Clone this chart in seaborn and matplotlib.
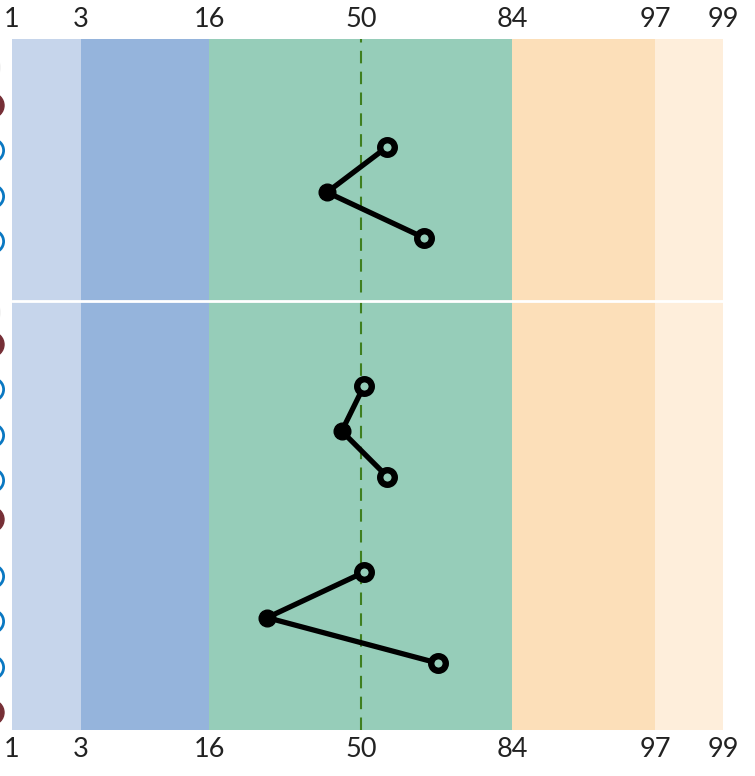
import numpy as np
import seaborn as sns
import matplotlib.pyplot as plt

sns.set_style("white")
plt.rcParams['font.family'] = ['Lato', 'DejaVu Sans']

# percentile ticks and bands
percentis = [1, 3, 16, 50, 84, 97, 99]
cores_faixas = ['#c6d5eb', '#95b4dc', '#96cdb9', '#96cdb9', '#fcdfb9', '#feeedb']

# row kinds, top to bottom: 'h' = section header (maroon), 'i' = item (blue)
linhas = ['h', 'i', 'i', 'i', 'h', 'i', 'i', 'i', 'h', 'i', 'i', 'i', 'h']
passos = [0, 1, 1, 1, 2.25, 1, 1, 1, 0.85, 1.25, 1, 1, 1]

# score percentiles of each group (item rows 1-3, 5-7, 9-11)
grupo1 = [55.9, 42.4, 64.2]
grupo2 = [50.7, 45.7, 55.9]
grupo3 = [50.7, 29.0, 67.3]

# scale anchors (layout only)
anc_pos = [0, 69, 197, 349, 500, 643, 711]
fwd = lambda p: np.interp(p, percentis, anc_pos)
inv = lambda v: np.interp(v, anc_pos, percentis)

y_linhas = np.cumsum(passos)

fig = plt.figure(figsize=(7.55, 7.76), dpi=100)
ax = fig.add_axes([12 / 755, 46 / 776, 711 / 755, 691 / 776])
ax.set_xscale('function', functions=(fwd, inv))
ax.set_xlim(1, 99)
ax.set_ylim(13.74, -1.45)

for i in range(len(percentis) - 1):
    ax.axvspan(percentis[i], percentis[i + 1], color=cores_faixas[i], lw=0, zorder=0)

ax.axvline(50, color='#3f7f1f', lw=1.5, ls=(0, (6, 4)), zorder=1)
ax.axhline(4.31, color='white', lw=2, zorder=1)

grupos = [grupo1, grupo2, grupo3]
itens = [i for i, k in enumerate(linhas) if k == 'i']
for g, valores in enumerate(grupos):
    ys = y_linhas[itens[g * 3:g * 3 + 3]] - 0.08
    sns.lineplot(x=valores, y=ys, sort=False, estimator=None, color='black', lw=3.8, ax=ax, zorder=3)
    ax.plot(valores[1], ys[1], 'o', color='black', ms=12, zorder=4)
    ax.plot([valores[0], valores[2]], [ys[0], ys[2]], 'o', mfc='#96cdb9', mec='black', mew=4.6, ms=10.5,
            ls='none', zorder=4)

# row markers left of the axes
trans = ax.get_yaxis_transform()
for k, y in zip(linhas, y_linhas):
    if k == 'h':
        ax.plot(-0.029, y, 'o', color='#762f36', ms=18, transform=trans, clip_on=False)
    else:
        ax.plot(-0.028, y, 'o', mfc='white', mec='#0a78c2', mew=2, ms=16, transform=trans, clip_on=False)
for y in [-0.84, 4.55]:
    ax.plot(-0.034, y, 'o', color='#f3f3f3', ms=17, transform=trans, clip_on=False)

ax.set_xticks(percentis)
ax.set_xticklabels([str(p) for p in percentis])
ax.xaxis.set_minor_locator(plt.NullLocator())
ax.tick_params(axis='x', top=True, labeltop=True, bottom=True, labelbottom=True, length=0,
               labelsize=19.5, colors='#222222', pad=5)
ax.set_yticks([])
for s in ax.spines.values():
    s.set_visible(False)

plt.savefig('out.png', dpi=100)
